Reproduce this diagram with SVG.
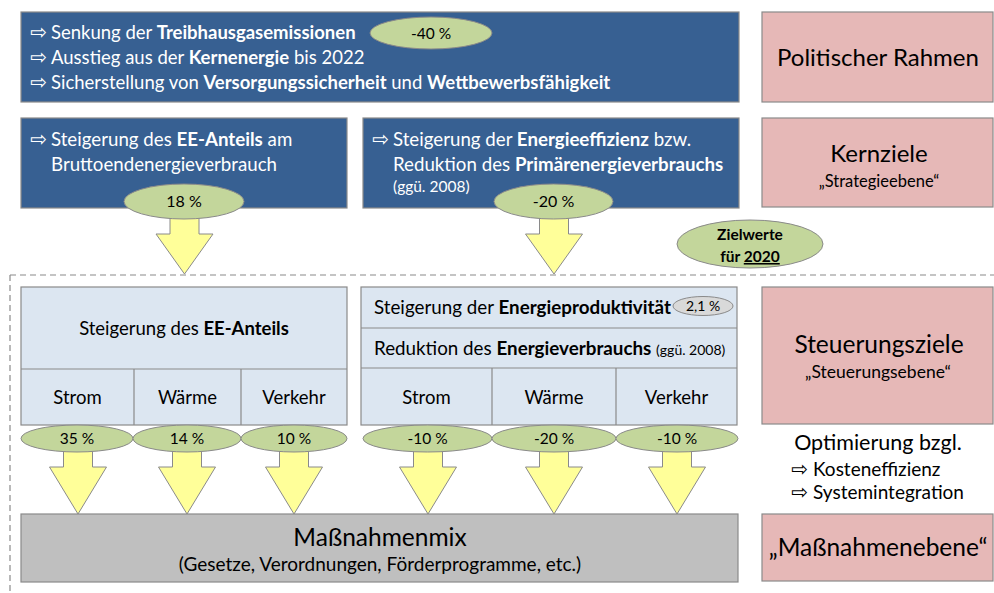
<svg xmlns="http://www.w3.org/2000/svg" width="994" height="593" viewBox="0 0 994 593">
  <defs>
    <style>
      text { font-family: Lato, "Open Sans", "DejaVu Sans", sans-serif; }
      .blue { fill: #376092; stroke: #8a8a8a; stroke-width: 1.2; }
      .pink { fill: #e6b8b7; stroke: #8a8a8a; stroke-width: 1.2; }
      .light { fill: #dce6f1; stroke: #8a8a8a; stroke-width: 1.2; }
      .mix { fill: #bfbfbf; stroke: #8a8a8a; stroke-width: 1.2; }
      .pill { fill: #c3d69b; stroke: #8a8a8a; stroke-width: 1; }
      .pill-grey { fill: #d9d9d9; stroke: #8a8a8a; stroke-width: 1; }
      .arrow { fill: #ffff99; stroke: #8a8a8a; stroke-width: 1; }
      .dash { fill: none; stroke: #8a8a8a; stroke-width: 1.2; stroke-dasharray: 6 4; }
      .w { fill: #ffffff; }
      .k { fill: #000000; }
      .b { font-weight: bold; }
      .sym { font-family: "DejaVu Sans", sans-serif; font-size: 20px; }
    </style>
  </defs>

  <!-- dashed frame around the steering and measures levels -->
  <g id="frame">
    <path class="dash" d="M10,275 H994 M10,275 V593"/>
  </g>

  <!-- block arrows -->
  <g id="connectors">
    <path class="arrow" d="M170,215 h29 v19 h14 l-28.5,40 l-28.5,-40 h14 z"/>
    <path class="arrow" d="M539.5,215 h29 v19 h14 l-28.5,40 l-28.5,-40 h14 z"/>
    <path class="arrow" d="M63.5,448 h29 v19 h14 l-28.5,47 l-28.5,-47 h14 z"/>
    <path class="arrow" d="M172.5,448 h29 v19 h14 l-28.5,47 l-28.5,-47 h14 z"/>
    <path class="arrow" d="M279.5,448 h29 v19 h14 l-28.5,47 l-28.5,-47 h14 z"/>
    <path class="arrow" d="M413.5,448 h29 v19 h14 l-28.5,47 l-28.5,-47 h14 z"/>
    <path class="arrow" d="M539.5,448 h29 v19 h14 l-28.5,47 l-28.5,-47 h14 z"/>
    <path class="arrow" d="M662.5,448 h29 v19 h14 l-28.5,47 l-28.5,-47 h14 z"/>
  </g>

  <!-- political framework -->
  <g id="rahmen">
    <rect class="blue" x="21" y="12" width="718" height="90"/>
    <text class="w sym" x="30" y="39">⇨</text>
    <text class="w sym" x="30" y="64">⇨</text>
    <text class="w sym" x="30" y="89">⇨</text>
    <text class="w" font-size="18.5" x="51" y="39">Senkung der <tspan class="b">Treibhausgasemissionen</tspan></text>
    <text class="w" font-size="18.5" x="51" y="64">Ausstieg aus der <tspan class="b">Kernenergie</tspan> bis 2022</text>
    <text class="w" font-size="18.5" x="51" y="89">Sicherstellung von <tspan class="b">Versorgungssicherheit</tspan> und <tspan class="b">Wettbewerbsfähigkeit</tspan></text>
    <ellipse class="pill" cx="431" cy="33" rx="61" ry="16"/>
    <text class="k" font-size="15.5" x="431" y="38.5" text-anchor="middle">-40 %</text>
  </g>

  <!-- core target: renewables share -->
  <g id="kern-ee">
    <rect class="blue" x="21" y="118" width="326" height="90"/>
    <text class="w sym" x="30" y="146">⇨</text>
    <text class="w" font-size="18.7" x="51" y="146">Steigerung des <tspan class="b">EE-Anteils</tspan> am</text>
    <text class="w" font-size="18.7" x="51" y="171">Bruttoendenergieverbrauch</text>
    <ellipse class="pill" cx="184" cy="201.5" rx="60" ry="17.5"/>
    <text class="k" font-size="16" x="184" y="207" text-anchor="middle">18 %</text>
  </g>

  <!-- core target: efficiency -->
  <g id="kern-eff">
    <rect class="blue" x="363" y="118" width="376" height="90"/>
    <text class="w sym" x="372" y="146">⇨</text>
    <text class="w" font-size="18.7" x="393" y="146">Steigerung der <tspan class="b">Energieeffizienz</tspan> bzw.</text>
    <text class="w" font-size="18.7" x="393" y="171">Reduktion des <tspan class="b">Primärenergieverbrauchs</tspan></text>
    <text class="w" font-size="15.5" x="393" y="192">(ggü. 2008)</text>
    <ellipse class="pill" cx="553.5" cy="201.5" rx="59.5" ry="17.5"/>
    <text class="k" font-size="16" x="553.5" y="207" text-anchor="middle">-20 %</text>
  </g>

  <!-- target year badge -->
  <g id="zielwerte">
    <ellipse class="pill" cx="750" cy="244" rx="73" ry="24"/>
    <text class="k b" font-size="15.5" x="750" y="240" text-anchor="middle">Zielwerte</text>
    <text class="k b" font-size="15.5" x="750" y="262" text-anchor="middle">für <tspan text-decoration="underline">2020</tspan></text>
  </g>

  <!-- steering targets: renewables -->
  <g id="steuer-ee">
    <rect class="light" x="21" y="287" width="326" height="138"/>
    <path class="light" d="M21,369 H347 M134,369 V425 M241,369 V425"/>
    <text class="k" font-size="18.5" x="184" y="335" text-anchor="middle">Steigerung des <tspan class="b">EE-Anteils</tspan></text>
    <text class="k" font-size="18.5" x="77.5" y="404" text-anchor="middle">Strom</text>
    <text class="k" font-size="18.5" x="187.5" y="404" text-anchor="middle">Wärme</text>
    <text class="k" font-size="18.5" x="294" y="404" text-anchor="middle">Verkehr</text>
    <ellipse class="pill" cx="77" cy="438.5" rx="56" ry="13.5"/>
    <ellipse class="pill" cx="187" cy="438.5" rx="54" ry="13.5"/>
    <ellipse class="pill" cx="294" cy="438.5" rx="53" ry="13.5"/>
    <text class="k" font-size="15.5" x="77" y="444" text-anchor="middle">35 %</text>
    <text class="k" font-size="15.5" x="187" y="444" text-anchor="middle">14 %</text>
    <text class="k" font-size="15.5" x="294" y="444" text-anchor="middle">10 %</text>
  </g>

  <!-- steering targets: productivity and consumption -->
  <g id="steuer-eff">
    <rect class="light" x="361" y="287" width="376" height="138"/>
    <path class="light" d="M361,328 H737 M361,368 H737 M492,368 V425 M616,368 V425"/>
    <text class="k" font-size="18.8" x="374" y="314">Steigerung der <tspan class="b">Energieproduktivität</tspan></text>
    <ellipse class="pill-grey" cx="703" cy="306" rx="30" ry="9.5"/>
    <text class="k" font-size="14" x="703" y="311" text-anchor="middle">2,1 %</text>
    <text class="k" font-size="18.8" x="374" y="355">Reduktion des <tspan class="b">Energieverbrauchs</tspan> <tspan font-size="14">(ggü. 2008)</tspan></text>
    <text class="k" font-size="18.5" x="426.5" y="404" text-anchor="middle">Strom</text>
    <text class="k" font-size="18.5" x="554" y="404" text-anchor="middle">Wärme</text>
    <text class="k" font-size="18.5" x="676.5" y="404" text-anchor="middle">Verkehr</text>
    <ellipse class="pill" cx="427.5" cy="438.5" rx="64.5" ry="13.5"/>
    <ellipse class="pill" cx="554" cy="438.5" rx="62" ry="13.5"/>
    <ellipse class="pill" cx="677" cy="438.5" rx="61" ry="13.5"/>
    <text class="k" font-size="15.5" x="427.5" y="444" text-anchor="middle">-10 %</text>
    <text class="k" font-size="15.5" x="554" y="444" text-anchor="middle">-20 %</text>
    <text class="k" font-size="15.5" x="677" y="444" text-anchor="middle">-10 %</text>
  </g>

  <!-- measures mix -->
  <g id="massnahmenmix">
    <rect class="mix" x="21" y="514" width="717" height="68"/>
    <text class="k" font-size="24.5" x="380" y="546" text-anchor="middle">Maßnahmenmix</text>
    <text class="k" font-size="19" x="380" y="571" text-anchor="middle">(Gesetze, Verordnungen, Förderprogramme, etc.)</text>
  </g>

  <!-- level labels on the right -->
  <g id="ebene-rahmen">
    <rect class="pink" x="762" y="12" width="231" height="90"/>
    <text class="k" font-size="24" x="878" y="66" text-anchor="middle">Politischer Rahmen</text>
  </g>
  <g id="ebene-kern">
    <rect class="pink" x="762" y="118" width="231" height="89"/>
    <text class="k" font-size="24" x="879" y="162" text-anchor="middle">Kernziele</text>
    <text class="k" font-size="16.5" x="879" y="187" text-anchor="middle">„Strategieebene“</text>
  </g>
  <g id="ebene-steuer">
    <rect class="pink" x="762" y="287" width="231" height="137"/>
    <text class="k" font-size="24.5" x="879" y="353" text-anchor="middle">Steuerungsziele</text>
    <text class="k" font-size="17.5" x="878" y="378" text-anchor="middle">„Steuerungsebene“</text>
  </g>
  <g id="optimierung">
    <text class="k" font-size="21.5" x="878" y="450" text-anchor="middle">Optimierung bzgl.</text>
    <text class="k sym" x="791" y="476">⇨</text>
    <text class="k" font-size="19" x="813" y="476">Kosteneffizienz</text>
    <text class="k sym" x="791" y="499">⇨</text>
    <text class="k" font-size="19" x="813" y="499">Systemintegration</text>
  </g>
  <g id="ebene-massnahmen">
    <rect class="pink" x="762" y="514" width="231" height="67"/>
    <text class="k" font-size="24.5" x="878" y="556" text-anchor="middle">„Maßnahmenebene“</text>
  </g>
</svg>
